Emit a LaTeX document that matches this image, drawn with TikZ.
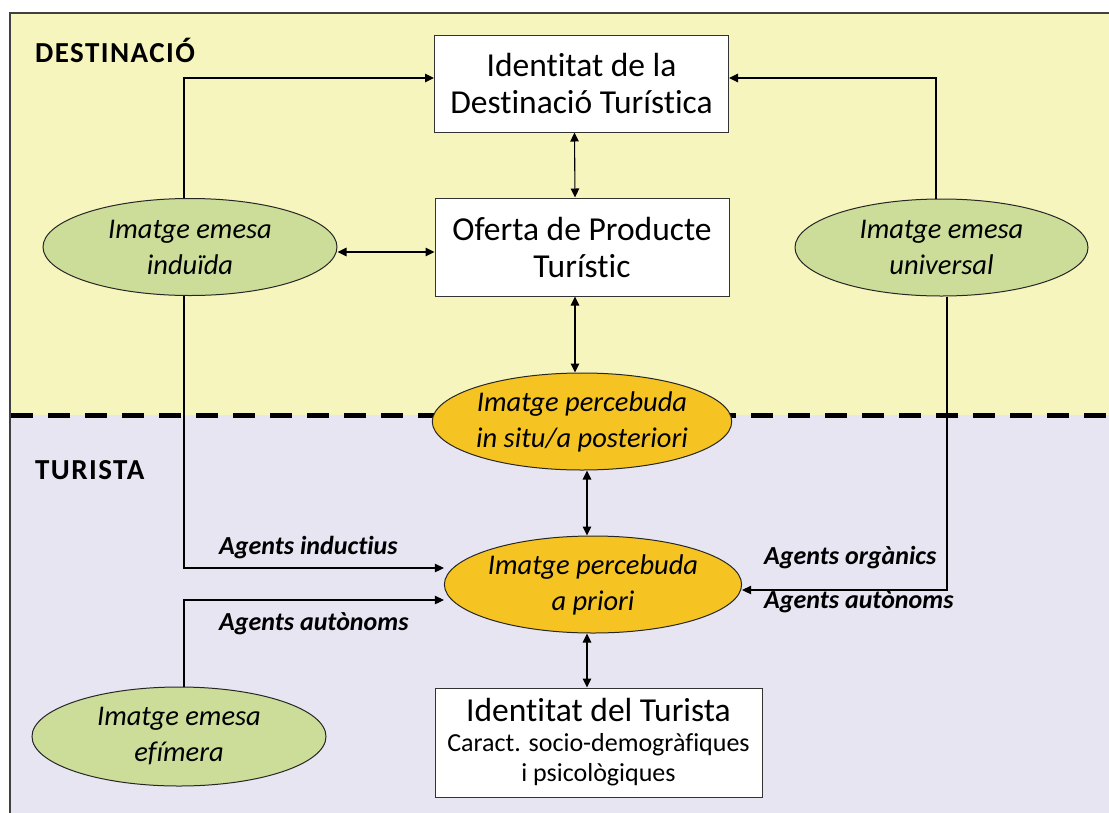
\documentclass[tikz,border=0pt]{standalone}
\usepackage{fontspec}
\setmainfont{Carlito}[Ligatures=NoCommon]
\newfontfamily\zonefont{Carlito}[Ligatures=NoCommon, LetterSpace=5]
\usetikzlibrary{arrows.meta,shapes.geometric}
\definecolor{destbg}{HTML}{F7F5BE}
\definecolor{turbg}{HTML}{E7E5F2}
\definecolor{emesa}{HTML}{CBDD99}
\definecolor{percebuda}{HTML}{F5C423}
\tikzset{
  box/.style={draw=black!80, fill=white, line width=1pt, align=center, inner sep=0pt,
    font=\fontsize{33.5}{37}\selectfont},
  emesaell/.style={ellipse, draw=black!85, fill=emesa, line width=1pt, align=center,
    inner sep=0pt, minimum width=294pt, minimum height=97pt,
    font=\fontsize{28.5}{36}\selectfont\itshape},
  percell/.style={emesaell, fill=percebuda},
  arr/.style={line width=1.1pt, -{Triangle[length=9pt,width=8.5pt]}},
  darr/.style={line width=1.1pt, {Triangle[length=9pt,width=8.5pt]}-{Triangle[length=9pt,width=8.5pt]}},
  agent/.style={anchor=west, inner sep=0pt, font=\fontsize{26}{28}\selectfont\bfseries\itshape},
  zone/.style={anchor=west, inner sep=0pt, font=\zonefont\fontsize{29}{30}\selectfont\bfseries},
}
\begin{document}
\begin{tikzpicture}[x=1pt,y=-1pt]
\useasboundingbox (0,0) rectangle (1109,812);
% zone backgrounds and frame
\fill[destbg] (10,13) rectangle (1112,415);
\fill[turbg] (10,415) rectangle (1112,815);
\draw[line width=1.2pt, draw=black!75] (1112,13) -- (10,13) -- (10,815);
\draw[line width=5pt, dash pattern=on 22pt off 15pt] (11,415) -- (1109,415);

\node[zone] (dest) at (35,50) {DESTINACIÓ};
\node[zone] (tur) at (35,470) {TURISTA};

% nodes
\node[box, minimum width=294pt, minimum height=97pt] (idd) at (581.5,83.5) {Identitat de la\\Destinació Turística};
\node[box, minimum width=294pt, minimum height=98pt] (ofe) at (582,247) {Oferta de Producte\\Turístic};
\node[emesaell] (indu) at (190,247) {Imatge emesa\\induïda};
\node[emesaell, minimum width=293pt] (univ) at (941.5,247.5) {Imatge emesa\\universal};
\node[percell] (situ) at (582,421.5) {Imatge percebuda\\in situ/a posteriori};
\node[percell] (prio) at (593,584.5) {Imatge percebuda\\a priori};
\node[emesaell, minimum height=99pt] (efim) at (179,736.5) {Imatge emesa\\efímera};
\node[box, minimum width=327pt, minimum height=109pt, font=\fontsize{33.5}{35}\selectfont] (idt) at (598.5,742.5)
  {Identitat del Turista\\[-5pt]{\fontsize{26}{29}\selectfont Caract. socio-demogràfiques}\\[-5pt]{\fontsize{26}{29}\selectfont i psicològiques}};

% connectors
\draw[arr] ([xshift=-6pt]indu.north) |- ([yshift=5.5pt]idd.west);
\draw[arr] ([xshift=-5.5pt]univ.north) |- ([yshift=5.5pt]idd.east);
\draw[darr] ([xshift=-7pt]idd.south) -- ([xshift=-7pt]ofe.north);
\draw[darr] ([yshift=-5pt]indu.east) -- ([yshift=-5pt]ofe.west);
\draw[darr] ([xshift=-7pt]ofe.south) -- ([xshift=-7pt]situ.north);
\draw[darr] ([xshift=5pt]situ.south) -- ([xshift=-6pt]prio.north);
\draw[darr] ([xshift=-6pt]prio.south) -- ([xshift=-11.5pt]idt.north);
\draw[arr] ([xshift=-6pt]indu.south) |- ([yshift=16.5pt]prio.west);
\draw[arr] ([xshift=5pt]efim.north) |- ([yshift=-15.5pt]prio.west);
\draw[arr] ([xshift=5.5pt]univ.south) |- ([yshift=-5.5pt]prio.east);

% agent labels
\node[agent] (ai) at (219,548) {Agents inductius};
\node[agent] (aa1) at (219,624) {Agents autònoms};
\node[agent] (ao) at (764,558) {Agents orgànics};
\node[agent] (aa2) at (764,602) {Agents autònoms};
\end{tikzpicture}
\end{document}
